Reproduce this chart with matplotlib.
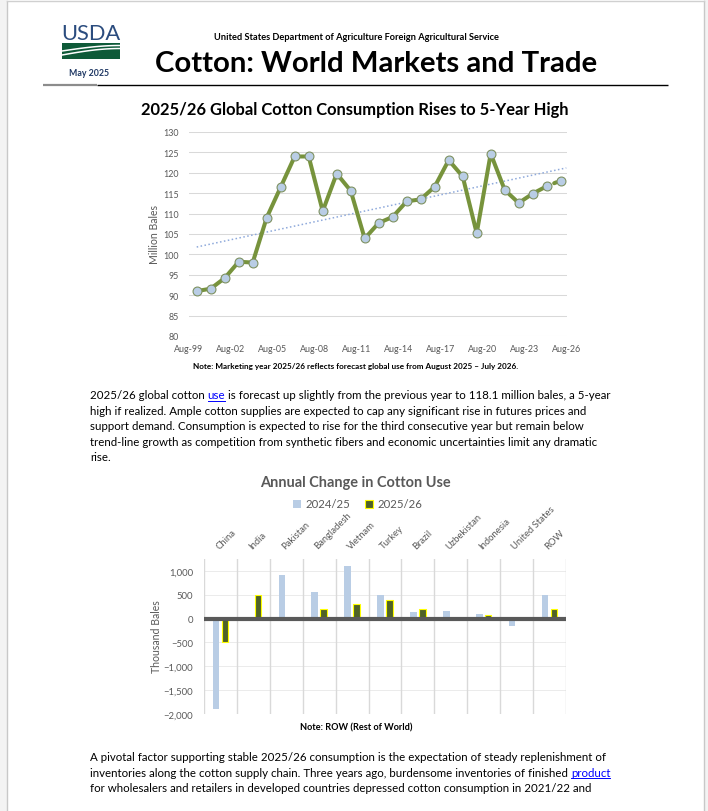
import numpy as np
import matplotlib
matplotlib.use("Agg")
import matplotlib.pyplot as plt
from matplotlib.patches import Rectangle, Patch
from matplotlib.ticker import StrMethodFormatter

# ---- data ---------------------------------------------------------------
# world cotton consumption, million bales, 1999/00 .. 2025/26 (last = forecast)
years = list(range(1999, 2026))
use_mb = [91.0, 91.6, 94.2, 98.2, 98.0, 109.0, 116.5, 124.0, 124.0, 110.6,
          119.8, 115.6, 103.9, 107.7, 109.2, 113.0, 113.5, 116.6, 123.1, 119.1,
          105.2, 124.7, 115.8, 112.6, 114.9, 116.7, 118.1]
date_labels = ["Aug-99", "Aug-02", "Aug-05", "Aug-08", "Aug-11",
               "Aug-14", "Aug-17", "Aug-20", "Aug-23", "Aug-26"]

# annual change in use, thousand bales
countries = ["China", "India", "Pakistan", "Bangladesh", "Vietnam", "Turkey",
             "Brazil", "Uzbekistan", "Indonesia", "United States", "ROW"]
chg_2425 = [-1900, 0, 920, 550, 1100, 490, 130, 150, 90, -160, 490]
chg_2526 = [-500, 500, 0, 200, 300, 400, 200, 0, 80, 0, 200]

para1 = [
    [("2025/26 global cotton ", False), ("use", True),
     (" is forecast up slightly from the previous year to 118.1 million bales, a 5-year", False)],
    [("high if realized. Ample cotton supplies are expected to cap any significant rise in futures prices and", False)],
    [("support demand. Consumption is expected to rise for the third consecutive year but remain below", False)],
    [("trend-line growth as competition from synthetic fibers and economic uncertainties limit any dramatic", False)],
    [("rise.", False)],
]
para2 = [
    [("A pivotal factor supporting stable 2025/26 consumption is the expectation of steady replenishment of", False)],
    [("inventories along the cotton supply chain. Three years ago, burdensome inventories of finished ", False),
     ("product", True)],
    [("for wholesalers and retailers in developed countries depressed cotton consumption in 2021/22 and", False)],
]

# ---- style --------------------------------------------------------------
W, H = 708, 812
BODY = "Lato"
GRAY_TXT = "#595959"
GRID = "#D9D9D9"
OLIVE = "#77933C"
MARKER = "#B9CDE5"
TREND = "#8EA9DB"
BLUE_BAR = "#B9CDE5"
GREEN_BAR = "#4F6228"
LINK = "#0000FF"

fig = plt.figure(figsize=(W / 100, H / 100), dpi=100)
page = fig.add_axes([0, 0, 1, 1])
page.set_xlim(0, W)
page.set_ylim(H, 0)
page.axis("off")
renderer = fig.canvas.get_renderer()


def text_w(s, **kw):
    t = page.text(0, 0, s, **kw)
    w = t.get_window_extent(renderer).width
    t.remove()
    return w


def fit(x, y, s, width, **kw):
    size = 10 * width / text_w(s, fontsize=10, **kw)
    page.text(x, y, s, fontsize=size, ha="center", va="center", **kw)
    return size


def rich_line(x, y, segs, size):
    done = ""
    for s, link in segs:
        off = 0
        if done:
            off = text_w(done + "x", fontsize=size, family=BODY) - text_w("x", fontsize=size, family=BODY)
        page.text(x + off, y, s, fontsize=size, family=BODY, va="center", ha="left",
                  color=LINK if link else "black")
        if link:
            w = text_w(s, fontsize=size, family=BODY)
            uy = y + 0.5 * size * 100 / 72
            page.plot([x + off, x + off + w], [uy, uy], color=LINK, lw=0.7)
        done += s


# ---- page frame ---------------------------------------------------------
page.add_patch(Rectangle((0, 0), 7, H, facecolor="#F3F3F3", edgecolor="none"))
page.add_patch(Rectangle((704, 0), W - 704, H, facecolor="#F3F3F3", edgecolor="none"))
page.plot([7, 7], [2, H], color="#C8C8C8", lw=1)
page.plot([704, 704], [2, H], color="#C8C8C8", lw=1)
page.plot([7, 704], [2, 2], color="#D0D0D0", lw=1)

# ---- header -------------------------------------------------------------
fit(90.5, 34.5, "USDA", 59, family=BODY, color="#2B4C7E")
page.add_patch(Rectangle((62, 44), 58, 16, facecolor="#0E5A38", edgecolor="none"))
tt = np.linspace(0, 1, 40)
for y0, y1 in [(52, 46.5), (56, 49.5)]:
    xs = 62 + 58 * tt
    ys = y0 + (y1 - y0) * np.sin(tt * np.pi / 2)
    page.plot(xs, ys, color="white", lw=1.1)
fit(89, 73, "May 2025", 40, family=BODY, weight="bold", color="#1F3864")
fit(356.5, 38, "United States Department of Agriculture Foreign Agricultural Service", 287,
    family=BODY, weight="bold", color="black")
fit(376, 64, "Cotton: World Markets and Trade", 446, family=BODY, weight="bold", color="black")
page.plot([43, 97], [86, 86], color="#8C8C8C", lw=1.6, solid_capstyle="butt")
page.plot([97, 668], [86, 86], color="black", lw=1.0, solid_capstyle="butt")

# ---- chart 1: consumption line ------------------------------------------
fit(355, 110, "2025/26 Global Cotton Consumption Rises to 5-Year High", 430,
    family=BODY, weight="bold", color="black")

ax1 = fig.add_axes([189 / W, 1 - 337 / H, (567 - 189) / W, (337 - 133) / H])
x = np.array(years) - years[0] + 0.55
y = np.array(use_mb)
k, b = np.polyfit(x, y, 1)
xt = np.array([x[0], x[-1] + 0.4])
ax1.plot(xt, k * xt + b, color=TREND, lw=1.1, ls=(0, (1, 1.6)), zorder=2)
ax1.plot(x[:-1], y[:-1], color=OLIVE, lw=2.9, zorder=3, solid_joinstyle="round")
ax1.plot(x[-2:], y[-2:], color=OLIVE, lw=2.9, ls=(0, (0.6, 1.4)), dash_capstyle="round", zorder=3)
ax1.plot(x, y, ls="none", marker="o", ms=6.4, mfc=MARKER, mec="#7E9162", mew=0.8, zorder=4)
ax1.set_xlim(0, 27)
ax1.set_ylim(80, 130)
ax1.set_yticks(range(80, 131, 5))
ax1.set_xticks(np.arange(0, 28, 3))
ax1.set_xticklabels(date_labels)
ax1.grid(axis="y", color=GRID, lw=0.75)
ax1.set_axisbelow(True)
for s in ax1.spines.values():
    s.set_visible(False)
ax1.tick_params(axis="both", length=0, labelsize=6.4, colors=GRAY_TXT)
ax1.tick_params(axis="x", pad=6)
ax1.tick_params(axis="y", pad=7.5)
for lab in ax1.get_xticklabels() + ax1.get_yticklabels():
    lab.set_family(BODY)
page.text(154, 235, "Million Bales", rotation=90, ha="center", va="center",
          fontsize=7.6, family=BODY, color=GRAY_TXT)
fit(355.5, 367, "Note: Marketing year 2025/26 reflects forecast global use from August 2025 \u2013 July 2026.",
    327, family=BODY, weight="bold", color="black")

# ---- body paragraph 1 ---------------------------------------------------
line1 = "".join(s for s, _ in para1[0])
body_size = 10 * 522 / text_w(line1, fontsize=10, family=BODY)
for i, segs in enumerate(para1):
    rich_line(90, 396 + 15.4 * i, segs, body_size)

# ---- chart 2: annual change bars ----------------------------------------
fit(355.5, 483, "Annual Change in Cotton Use", 191, family=BODY, weight="bold", color=GRAY_TXT)

ax2 = fig.add_axes([204 / W, 1 - 715 / H, (566 - 204) / W, (715 - 560) / H])
xc = np.arange(len(countries))
ax2.bar(xc - 0.135, chg_2425, width=0.2, color=BLUE_BAR, zorder=2, label="2024/25")
ax2.bar(xc + 0.135, chg_2526, width=0.2, color=GREEN_BAR, edgecolor="#FFFF00",
        linewidth=0.8, zorder=2, label="2025/26")
ax2.axhline(0, color=GRAY_TXT, lw=3.0, zorder=3)
for xv in np.arange(len(countries) + 1) - 0.5:
    ax2.axvline(xv, color=GRID, lw=1.0, zorder=1)
ax2.set_xlim(-0.5, len(countries) - 0.5)
ax2.set_ylim(-2000, 1250)
ax2.set_yticks(range(-2000, 1001, 500))
ax2.yaxis.set_major_formatter(StrMethodFormatter("{x:,.0f}"))
ax2.grid(axis="y", color="#EBEBEB", lw=0.7)
ax2.set_axisbelow(True)
for s in ax2.spines.values():
    s.set_visible(False)
ax2.xaxis.tick_top()
ax2.set_xticks(xc)
ax2.set_xticklabels(countries, rotation=45, ha="left", va="bottom", rotation_mode="anchor")
ax2.tick_params(axis="both", length=0, labelsize=6.8, colors=GRAY_TXT)
ax2.tick_params(axis="x", pad=6.5)
ax2.tick_params(axis="y", pad=8)
for lab in ax2.get_xticklabels() + ax2.get_yticklabels():
    lab.set_family(BODY)
page.text(157, 637, "Thousand Bales", rotation=90, ha="center", va="center",
          fontsize=7.6, family=BODY, color=GRAY_TXT)
handles = [Patch(facecolor=BLUE_BAR, edgecolor="none", label="2024/25"),
           Patch(facecolor=GREEN_BAR, edgecolor="#FFFF00", linewidth=0.8, label="2025/26")]
fig.legend(handles=handles, loc="center", bbox_to_anchor=(358 / W, 1 - 505 / H), ncol=2,
           frameon=False, prop={"family": BODY, "size": 8.2}, labelcolor=GRAY_TXT,
           handlelength=0.7, handleheight=0.7, handletextpad=0.4, columnspacing=1.3)
fit(356, 728, "Note: ROW (Rest of World)", 112, family=BODY, weight="bold", color="black")

# ---- body paragraph 2 ---------------------------------------------------
for i, segs in enumerate(para2):
    rich_line(90, 758 + 15.4 * i, segs, body_size)

fig.savefig("out.png", dpi=100)
